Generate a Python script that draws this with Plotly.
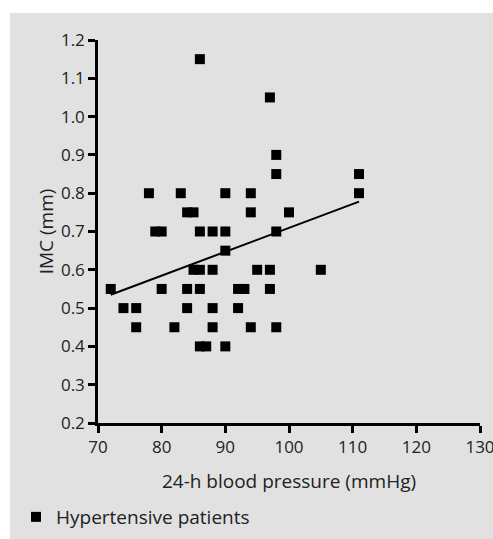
import plotly.graph_objects as go

# Data
bp = [86, 97, 98, 98, 111, 78, 83, 90, 94, 111, 84, 85, 94, 100,
      79, 80, 86, 88, 90, 98, 90, 85, 86, 88, 95, 97, 105,
      72, 80, 84, 86, 92, 93, 97, 74, 76, 84, 88, 92,
      76, 82, 88, 94, 98, 86, 87, 90]
imc = [1.15, 1.05, 0.90, 0.85, 0.85, 0.80, 0.80, 0.80, 0.80, 0.80, 0.75, 0.75, 0.75, 0.75,
       0.70, 0.70, 0.70, 0.70, 0.70, 0.70, 0.65, 0.60, 0.60, 0.60, 0.60, 0.60, 0.60,
       0.55, 0.55, 0.55, 0.55, 0.55, 0.55, 0.55, 0.50, 0.50, 0.50, 0.50, 0.50,
       0.45, 0.45, 0.45, 0.45, 0.45, 0.40, 0.40, 0.40]
x_ticks = [70, 80, 90, 100, 110, 120, 130]
y_ticks = [0.2, 0.3, 0.4, 0.5, 0.6, 0.7, 0.8, 0.9, 1.0, 1.1, 1.2]
y_tick_labels = ["0.2", "0.3", "0.4", "0.5", "0.6", "0.7", "0.8", "0.9", "1.0", "1.1", "1.2"]
series_name = "Hypertensive patients"

# Regression line as drawn in the reference
fit_slope = 0.00623
fit_intercept = 0.0864
fit_x = [min(bp), max(bp)]
fit_y = [fit_slope * v + fit_intercept for v in fit_x]

FONT = "Open Sans, Liberation Sans, sans-serif"
TXT = "#222222"
BG = "#e1e1e1"

fig = go.Figure()
fig.add_trace(go.Scatter(
    x=bp, y=imc, mode="markers", name=series_name,
    marker=dict(symbol="square", size=10, color="black", line=dict(width=0)),
))
fig.add_trace(go.Scatter(
    x=fit_x, y=fit_y, mode="lines", showlegend=False,
    line=dict(color="black", width=2), hoverinfo="skip",
))

axis_common = dict(
    showgrid=False, zeroline=False, showline=True, linecolor="black", linewidth=2.5,
    ticks="outside", ticklen=7, tickwidth=2.5, tickcolor="black",
    tickfont=dict(family=FONT, size=17, color=TXT),
    ticklabeloverflow="allow", automargin=False,
)
fig.update_xaxes(range=[70, 130], tickvals=x_ticks, **axis_common,
                 title=dict(text="24-h blood pressure (mmHg)", standoff=18,
                            font=dict(family=FONT, size=19, color=TXT)))
fig.update_yaxes(range=[0.2, 1.2], tickvals=y_ticks, ticktext=y_tick_labels, **axis_common,
                 title=dict(text="IMC (mm)", standoff=3,
                            font=dict(family=FONT, size=19, color=TXT)))

L, R, T, B = 98, 13, 40, 116
W, H = 493, 539
pw, ph = W - L - R, H - T - B

def px2paper_x(px):
    return (px - L) / pw

def px2paper_y(py):
    return (H - B - py) / ph

fig.update_layout(
    width=W, height=H,
    margin=dict(l=L, r=R, t=T, b=B, pad=0, autoexpand=False),
    paper_bgcolor=BG, plot_bgcolor=BG,
    font=dict(family=FONT, size=17, color=TXT),
    showlegend=True,
    legend=dict(x=px2paper_x(16), y=px2paper_y(517), xanchor="left", yanchor="middle",
                bgcolor="rgba(0,0,0,0)", font=dict(family=FONT, size=19, color=TXT),
                itemwidth=30),
    shapes=[
        dict(type="rect", xref="paper", yref="paper", layer="below",
             x0=px2paper_x(0), x1=px2paper_x(W), y0=px2paper_y(0), y1=px2paper_y(13),
             fillcolor="white", line=dict(width=0)),
        dict(type="rect", xref="paper", yref="paper", layer="below",
             x0=px2paper_x(0), x1=px2paper_x(10), y0=px2paper_y(0), y1=px2paper_y(H),
             fillcolor="white", line=dict(width=0)),
    ],
)

fig.write_html(
    "out.html",
    config={"displayModeBar": False},
    post_script="document.body.style.margin='0';document.body.style.overflow='hidden';",
)
